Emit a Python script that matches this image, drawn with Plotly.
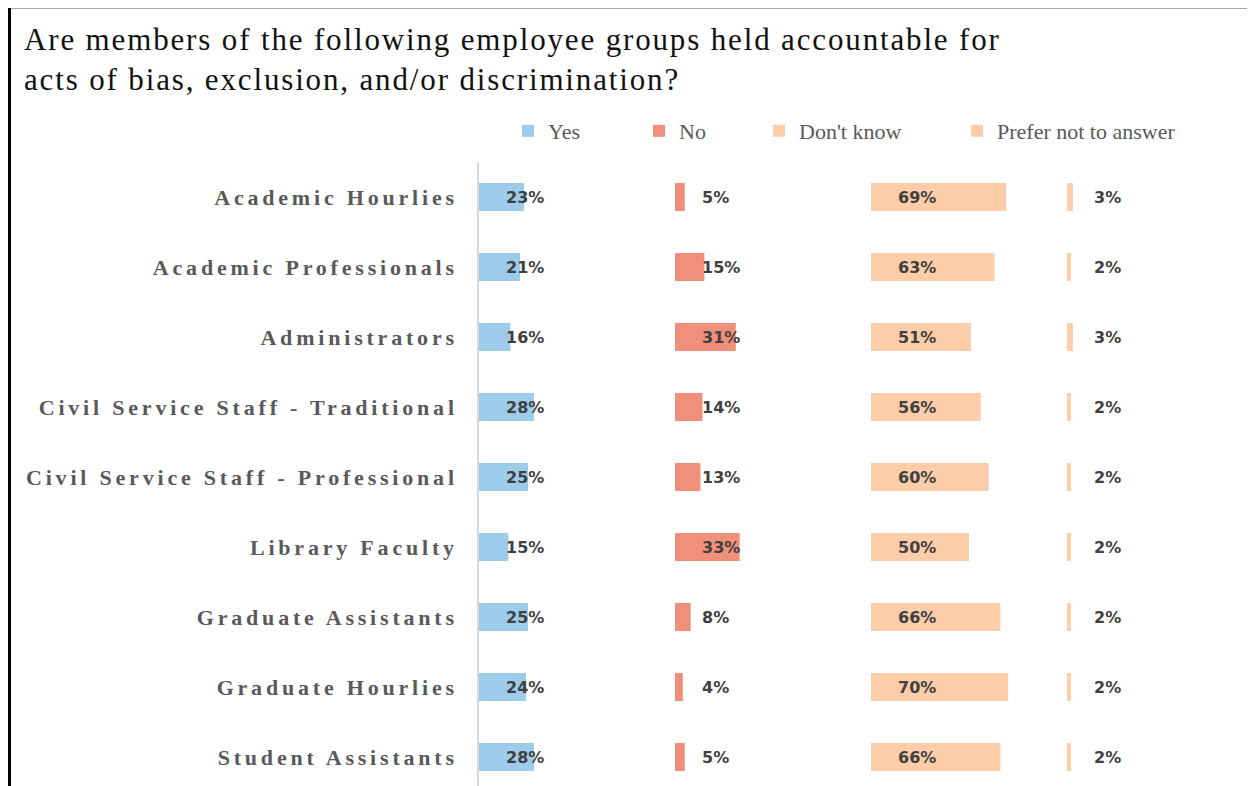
import plotly.graph_objects as go

# ---- data ----
categories = [
    "Academic Hourlies",
    "Academic Professionals",
    "Administrators",
    "Civil Service Staff - Traditional",
    "Civil Service Staff - Professional",
    "Library Faculty",
    "Graduate Assistants",
    "Graduate Hourlies",
    "Student Assistants",
]
series_names = ["Yes", "No", "Don't know", "Prefer not to answer"]
yes_vals = [23, 21, 16, 28, 25, 15, 25, 24, 28]
no_vals = [5, 15, 31, 14, 13, 33, 8, 4, 5]
dontknow_vals = [69, 63, 51, 56, 60, 50, 66, 70, 66]
prefer_vals = [3, 2, 3, 2, 2, 2, 2, 2, 2]
title_lines = [
    "Are members of the following employee groups held accountable for",
    "acts of bias, exclusion, and/or discrimination?",
]

# ---- styling ----
W, H = 1255, 786
OFF = 8  # page body margin compensation
colors = ["#9DCBEA", "#F0907A", "#FDCDAA", "#FDCDAA"]
px_per_pct = 1.96
panel_left_px = [p - OFF for p in [479, 675, 871, 1067]]
plot_top_px = 162 - OFF
row_px = 70
legend_text_px = [p - OFF for p in [548, 679, 799, 997]]
legend_y_px = 131 - OFF

all_vals = [yes_vals, no_vals, dontknow_vals, prefer_vals]

fig = go.Figure()
axis_names = ["x", "x2", "x3", "x4"]
legend_names = ["legend", "legend2", "legend3", "legend4"]

for i, (name, vals) in enumerate(zip(series_names, all_vals)):
    fig.add_trace(go.Bar(
        x=vals, y=categories, orientation="h", name=name,
        marker=dict(color=colors[i], line=dict(width=0)),
        width=0.4, xaxis=axis_names[i], yaxis="y",
        legend=legend_names[i], showlegend=True, hoverinfo="skip",
    ))
    for c, v in zip(categories, vals):
        fig.add_annotation(
            x=12.9, y=c, xref=axis_names[i], yref="y", text=f"{v}%",
            showarrow=False, xanchor="left", yanchor="middle",
            font=dict(family="DejaVu Sans", size=16, color="#404040", weight="bold"),
        )

# x axes (panels)
layout_axes = {}
for i in range(4):
    left = panel_left_px[i]
    right = min(left + 100 * px_per_pct, W)
    key = "xaxis" if i == 0 else f"xaxis{i+1}"
    layout_axes[key] = dict(
        domain=[left / W, right / W],
        range=[0, (right - left) / px_per_pct],
        visible=False, anchor="y", fixedrange=True,
    )

ytop = -0.5
ybottom = -0.5 + (H - plot_top_px) / row_px

tick_text = [
    f'<span style="letter-spacing:3.8px">{c}</span>' for c in categories
]

fig.update_layout(
    width=W, height=H,
    margin=dict(l=0, r=0, t=0, b=0),
    paper_bgcolor="white", plot_bgcolor="white",
    barmode="overlay",
    yaxis=dict(
        domain=[0, 1 - plot_top_px / H],
        categoryorder="array", categoryarray=categories,
        range=[ybottom, ytop],
        tickmode="array", tickvals=categories, ticktext=tick_text,
        tickfont=dict(family="Liberation Serif", size=22, color="#595959", weight="bold"),
        showline=True, linecolor="#D9D9D9", linewidth=1.5,
        showgrid=False, zeroline=False, ticks="",
        ticklabelstandoff=15, fixedrange=True,
    ),
    **layout_axes,
    showlegend=True,
)

for i, ln in enumerate(legend_names):
    fig.update_layout({ln: dict(
        x=(legend_text_px[i] - 40) / W, xanchor="left",
        y=1 - legend_y_px / H, yanchor="middle",
        orientation="h", bgcolor="rgba(0,0,0,0)",
        font=dict(family="Liberation Serif", size=22, color="#595959"),
    )})

# title
fig.add_annotation(
    x=(22 - OFF) / W, y=1 - (20 - OFF) / H, xref="paper", yref="paper",
    xanchor="left", yanchor="top", align="left", showarrow=False,
    text='<span style="letter-spacing:1.85px">' + "<br>".join(title_lines) + "</span>",
    font=dict(family="Liberation Serif", size=31, color="#111111"),
)

# page frame (top rule and left border of the original sheet)
fig.add_shape(type="line", xref="paper", yref="paper",
              x0=0, x1=1, y0=1 - 0.5 / H, y1=1 - 0.5 / H,
              line=dict(color="#A6A6A6", width=1))
fig.add_shape(type="line", xref="paper", yref="paper",
              x0=1.5 / W, x1=1.5 / W, y0=0, y1=1,
              line=dict(color="#000000", width=3))

fig.write_html("out.html")
